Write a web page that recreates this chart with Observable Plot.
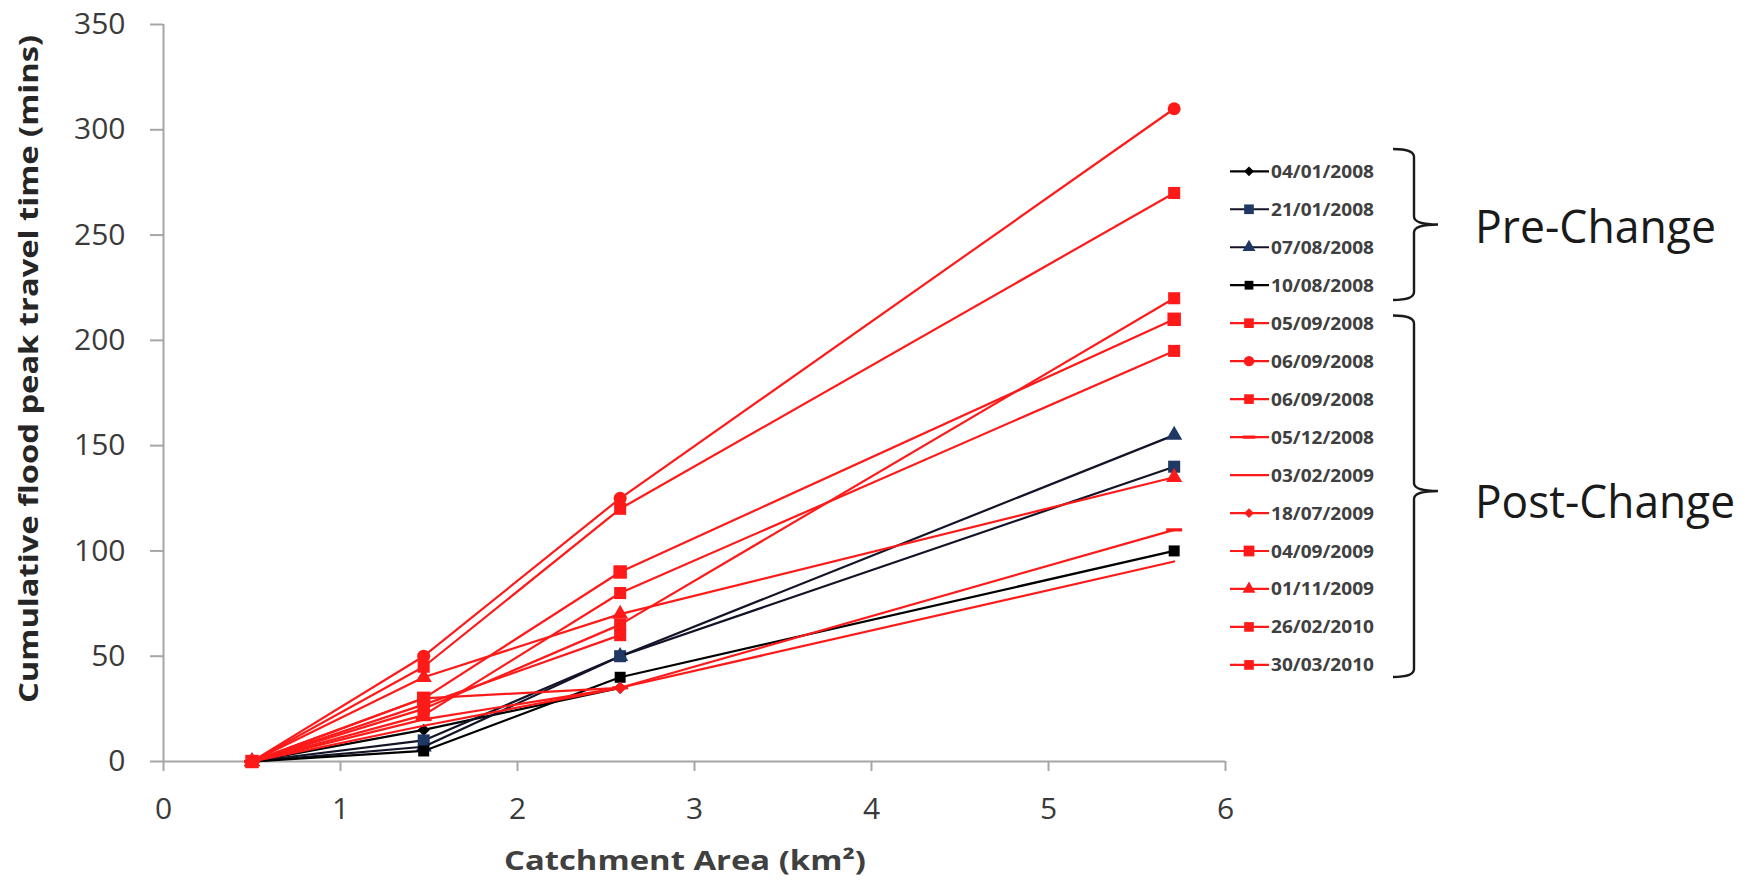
<!DOCTYPE html>
<html><head><meta charset="utf-8">
<script src="https://cdn.jsdelivr.net/npm/d3@7"></script>
<script src="https://cdn.jsdelivr.net/npm/@observablehq/plot@0.6"></script>
<style>
html,body{margin:0;padding:0;background:#fff;}
#chart svg{display:block;}
</style></head><body><div id="chart"></div>
<script>
// ---------- data ----------
const catchmentArea = [0.5, 1.47, 2.58, 5.71];
const seriesDates = ["04/01/2008","21/01/2008","07/08/2008","10/08/2008","05/09/2008","06/09/2008","06/09/2008",
  "05/12/2008","03/02/2009","18/07/2009","04/09/2009","01/11/2009","26/02/2010","30/03/2010"];
const t01 = [0, 15, 35, null];
const t02 = [0, 10, 50, 140];
const t03 = [0, 7, 50, 155];
const t04 = [0, 5, 40, 100];
const t05 = [0, 25, 65, 220];
const t06 = [0, 50, 125, 310];
const t07 = [0, 45, 120, 270];
const t08 = [0, 20, 35, 110];
const t09 = [0, 17, 35, 95];
const t10 = [0, 30, 35, null];
const t11 = [0, 30, 90, 210];
const t12 = [0, 40, 70, 135];
const t13 = [0, 22, 80, 195];
const t14 = [0, 27, 60, null];
const travelTimes = [t01,t02,t03,t04,t05,t06,t07,t08,t09,t10,t11,t12,t13,t14];
const xTicks = [0,1,2,3,4,5,6];
const yTicks = [0,50,100,150,200,250,300,350];
const groupLabels = ["Pre-Change","Post-Change"];
const xTitle = "Catchment Area (km²)";
const yTitle = "Cumulative flood peak travel time (mins)";

// ---------- styles ----------
const RED = "#ff1a1a", NAVY = "#1f3864", BLK = "#000000";
const lineColor  = [BLK,"#141428","#141428",BLK,RED,RED,RED,RED,RED,RED,RED,RED,RED,RED];
const markerFill = [BLK,NAVY,NAVY,BLK,RED,RED,RED,RED,RED,RED,RED,RED,RED,RED];
const markerType = ["diamond","square","triangle","square","square","circle","square","dash","none","diamond","square","triangle","square","square"];
const markerSize = [5.5,6.8,6,6.2,6.8,6.5,6.8,5,0,5.5,7.6,6,6.8,6.8];
const dashSymbol = {draw(ctx, size){ const w = Math.sqrt(size)*0.9; ctx.moveTo(-w,-1.6); ctx.lineTo(w,-1.6); ctx.lineTo(w,1.6); ctx.lineTo(-w,1.6); ctx.closePath(); }};
const plotSymbol = {diamond:"diamond2", square:"square", triangle:"triangle", circle:"circle", dash: dashSymbol};
const d3Symbol = {diamond:d3.symbolDiamond2, square:d3.symbolSquare, triangle:d3.symbolTriangle, circle:d3.symbolCircle, dash: dashSymbol};

const W = 1745, H = 880;
const FONT = "'Open Sans', 'DejaVu Sans', sans-serif";
const AXIS_GREY = "#a6a6a6";

const marks = [
  Plot.ruleX([0], {stroke: AXIS_GREY, strokeWidth: 2}),
  Plot.ruleY([0], {stroke: AXIS_GREY, strokeWidth: 2}),
  Plot.axisY({ticks: yTicks, tickSize: 13, tickPadding: 25, stroke: AXIS_GREY, strokeWidth: 2, fill: "#3a3a3a", fontSize: 30, label: null}),
  Plot.axisX({ticks: xTicks, tickFormat: "d", tickSize: 10, tickPadding: 26, stroke: AXIS_GREY, strokeWidth: 2, fill: "#3a3a3a", fontSize: 30, label: null})
];
travelTimes.forEach((vals, i) => {
  const rows = catchmentArea.map((a, j) => ({area: a, time: vals[j]})).filter(d => d.time != null);
  marks.push(Plot.line(rows, {x: "area", y: "time", stroke: lineColor[i], strokeWidth: 2.2}));
  if (markerType[i] !== "none") {
    marks.push(Plot.dot(rows, {x: "area", y: "time", symbol: plotSymbol[markerType[i]], r: markerSize[i], fill: markerFill[i], stroke: "none"}));
  }
});

const svg = Plot.plot({
  width: W, height: H,
  marginLeft: 163, marginRight: W - 1225, marginTop: 24, marginBottom: H - 761,
  style: {fontFamily: FONT, background: "#fff", overflow: "visible"},
  x: {domain: [0, 6]},
  y: {domain: [0, 350]},
  marks
});
document.getElementById("chart").appendChild(svg);

// ---------- titles, legend, braces ----------
const s = d3.select(svg);
s.append("text").attr("transform", "translate(27,369) rotate(-90)")
  .attr("text-anchor", "middle").attr("dominant-baseline", "central")
  .attr("font-family", FONT).attr("font-weight", "bold").attr("font-size", 27)
  .attr("fill", "#262626").attr("textLength", 668).attr("lengthAdjust", "spacingAndGlyphs").text(yTitle);
s.append("text").attr("x", 685).attr("y", 860)
  .attr("text-anchor", "middle").attr("dominant-baseline", "central")
  .attr("font-family", FONT).attr("font-weight", "bold").attr("font-size", 26)
  .attr("fill", "#404040").attr("textLength", 362).attr("lengthAdjust", "spacingAndGlyphs").text(xTitle);

const leg = s.append("g");
const row0 = 171.3, rowStep = 37.97;
seriesDates.forEach((d, i) => {
  const y = row0 + i * rowStep;
  leg.append("line").attr("x1", 1230).attr("x2", 1269).attr("y1", y).attr("y2", y)
    .attr("stroke", lineColor[i]).attr("stroke-width", 2.2);
  if (markerType[i] !== "none") {
    const r = markerSize[i] * 0.8;
    leg.append("path").attr("transform", `translate(1249,${y})`)
      .attr("d", d3.symbol(d3Symbol[markerType[i]], Math.PI * r * r)())
      .attr("fill", markerFill[i]);
  }
  leg.append("text").attr("x", 1271).attr("y", y).attr("text-anchor", "start").attr("dominant-baseline", "central")
    .attr("font-family", FONT).attr("font-weight", "bold").attr("font-size", 17)
    .attr("fill", "#404040").attr("textLength", 103).attr("lengthAdjust", "spacingAndGlyphs").text(d);
});

function brace(top, bottom, mid) {
  const xh = 1393, xv = 1414, xt = 1438;
  return `M${xh},${top} Q${xv},${top} ${xv},${top+8} L${xv},${mid-8} Q${xv},${mid} ${xt},${mid} Q${xv},${mid} ${xv},${mid+8} L${xv},${bottom-8} Q${xv},${bottom} ${xh},${bottom}`;
}
s.append("path").attr("d", brace(149, 300, 224.5)).attr("fill", "none").attr("stroke", "#1a1a1a").attr("stroke-width", 2.4);
s.append("path").attr("d", brace(315.5, 677, 491)).attr("fill", "none").attr("stroke", "#1a1a1a").attr("stroke-width", 2.4);

[[225, 241], [500, 260]].forEach(([y, len], i) => {
  s.append("text").attr("x", 1475).attr("y", y).attr("text-anchor", "start").attr("dominant-baseline", "central")
    .attr("font-family", FONT).attr("font-size", 45).attr("fill", "#1a1a1a")
    .attr("textLength", len).attr("lengthAdjust", "spacingAndGlyphs").text(groupLabels[i]);
});
</script></body></html>
